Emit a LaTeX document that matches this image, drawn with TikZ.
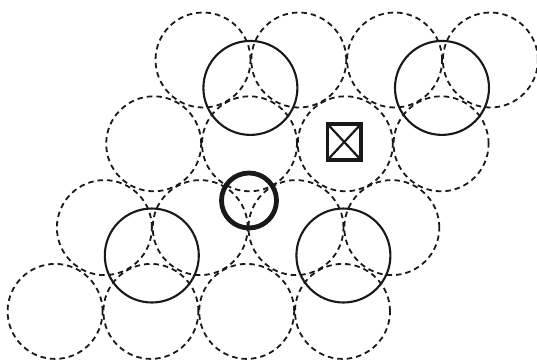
\documentclass[tikz,border=0pt]{standalone}
\begin{document}
\begin{tikzpicture}[x=1pt,y=-1pt,
  dcirc/.style={draw=black!90, line width=1.8pt, dash pattern=on 5.5pt off 4pt},
  scirc/.style={draw=black!90, line width=2.1pt},
  thickcirc/.style={draw=black!90, line width=4.8pt},
  boxframe/.style={draw=black!90, line width=3.6pt},
  boxcross/.style={draw=black!90, line width=2.2pt}]
\fill[white] (0,0) rectangle (537,360);
\useasboundingbox (0,0) rectangle (537,360);
% dashed lattice of circles
\foreach \j in {0,...,3}{
  \foreach \i in {0,...,3}{
    \draw[dcirc] ({203+95.8*\i-49.3*\j},{60+83.8*\j}) circle[radius=47.5pt];
  }
}
% solid circles
\draw[scirc] (250.4,87.9) circle[radius=47pt];
\draw[scirc] (442,87.9) circle[radius=47pt];
\draw[scirc] (151.8,255.5) circle[radius=47pt];
\draw[scirc] (343.4,255.5) circle[radius=47pt];
% thick small circle
\draw[thickcirc] (249,200.5) circle[radius=27.5pt];
% crossed square
\draw[boxframe] (327.5,124) rectangle (361,160);
\draw[boxcross] (327.5,124) -- (361,160);
\draw[boxcross] (361,124) -- (327.5,160);
\end{tikzpicture}
\end{document}
